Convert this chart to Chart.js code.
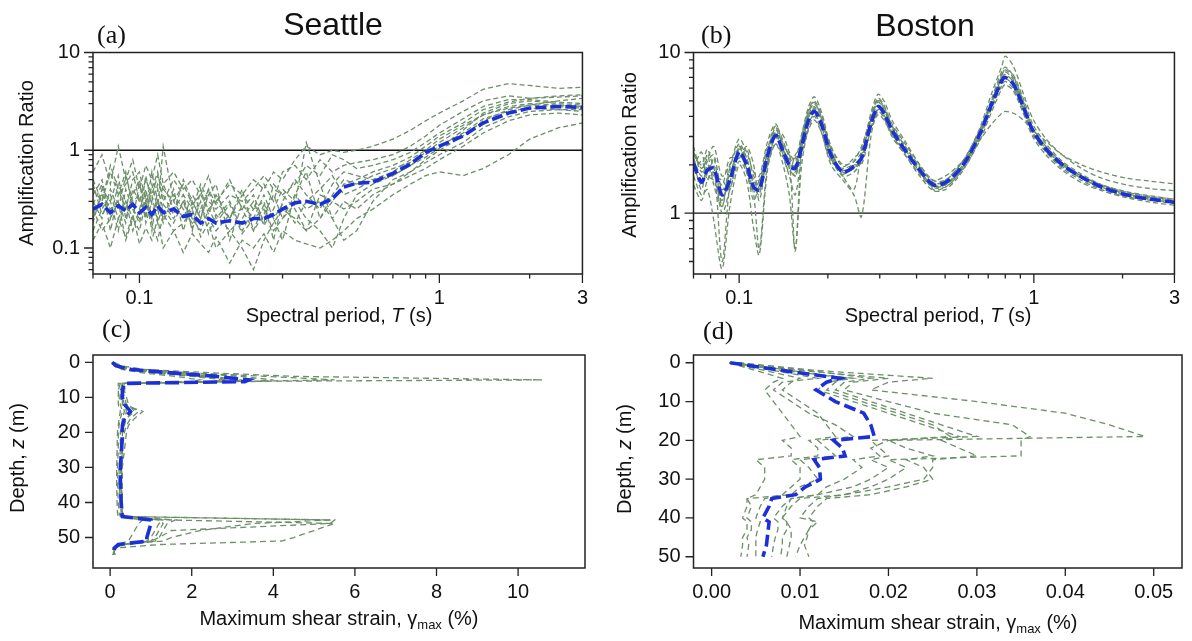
<!DOCTYPE html>
<html><head><meta charset="utf-8">
<script src="https://cdn.jsdelivr.net/npm/chart.js@4.4.1/dist/chart.umd.min.js"></script>
<style>
html,body{margin:0;padding:0;background:#fff}
body{width:1192px;height:641px;position:relative;overflow:hidden;font-family:"Liberation Sans",Arial,sans-serif;color:#111}
canvas{position:absolute}
.lbl{position:absolute;white-space:nowrap;line-height:1}
.ttl{font-size:32px;transform:translateX(-50%)}
.pan{font-family:"Liberation Serif","Times New Roman",serif;font-size:26px}
.xt{font-size:20px;transform:translateX(-50%)}
.yt{font-size:20px;transform:translate(-50%,-50%) rotate(-90deg)}
.sub{font-size:13px;position:relative;top:4px}
</style></head><body>
<canvas id="ca" width="600" height="340" style="left:0;top:0"></canvas>
<canvas id="cb" width="592" height="340" style="left:600px;top:0"></canvas>
<canvas id="cc" width="600" height="311" style="left:0;top:330px"></canvas>
<canvas id="cd" width="592" height="311" style="left:600px;top:330px"></canvas>

<div class="lbl ttl" style="left:333px;top:8px">Seattle</div>
<div class="lbl ttl" style="left:925px;top:9px">Boston</div>
<div class="lbl pan" style="left:97px;top:22px">(a)</div>
<div class="lbl pan" style="left:701px;top:22px">(b)</div>
<div class="lbl pan" style="left:102px;top:316px">(c)</div>
<div class="lbl pan" style="left:703px;top:318px">(d)</div>
<div class="lbl xt" style="left:339px;top:305px">Spectral period, <i>T</i> (s)</div>
<div class="lbl xt" style="left:938px;top:305px">Spectral period, <i>T</i> (s)</div>
<div class="lbl xt" style="left:339px;top:608px">Maximum shear strain, γ<span class="sub">max</span> (%)</div>
<div class="lbl xt" style="left:938px;top:612px">Maximum shear strain, γ<span class="sub">max</span> (%)</div>
<div class="lbl yt" style="left:26px;top:163px">Amplification Ratio</div>
<div class="lbl yt" style="left:629px;top:155px">Amplification Ratio</div>
<div class="lbl yt" style="left:17px;top:458px">Depth, <i>z</i> (m)</div>
<div class="lbl yt" style="left:624px;top:459px">Depth, <i>z</i> (m)</div>

<script>
// ---------- data ----------
const periodA = [0.07,0.075,0.08,0.085,0.09,0.095,0.1,0.105,0.11,0.115,0.12,0.13,0.14,0.15,0.16,0.17,0.18,0.2,0.22,0.24,0.26,0.28,0.3,0.33,0.36,0.4,0.44,0.48,0.53,0.6,0.7,0.8,0.9,1.0,1.2,1.4,1.7,2.0,2.5,3.0];
const seattleMean = [0.25,0.28,0.23,0.27,0.24,0.28,0.23,0.26,0.22,0.27,0.23,0.25,0.21,0.22,0.18,0.2,0.18,0.19,0.18,0.2,0.2,0.22,0.25,0.29,0.3,0.28,0.32,0.42,0.46,0.47,0.58,0.72,0.95,1.1,1.4,1.9,2.4,2.7,2.8,2.75];
const seattleRun1 = [0.6,0.9,0.45,1.1,0.5,0.8,0.4,0.7,0.5,0.9,0.45,0.6,0.4,0.5,0.35,0.55,0.3,0.45,0.35,0.5,0.4,0.6,0.5,0.8,1.1,0.9,1.0,0.95,1.0,1.1,1.3,1.6,2.0,2.4,3.2,4.2,4.8,4.6,4.3,4.4];
const seattleRun2 = [0.12,0.18,0.1,0.2,0.13,0.22,0.11,0.16,0.12,0.2,0.1,0.15,0.09,0.14,0.11,0.09,0.13,0.07,0.12,0.1,0.14,0.09,0.15,0.12,0.11,0.1,0.12,0.15,0.2,0.25,0.35,0.45,0.55,0.6,0.55,0.65,0.9,1.3,1.7,1.9];
const seattleRun3 = [0.3,0.2,0.4,0.25,0.55,0.3,0.35,0.2,0.45,0.25,1.1,0.3,0.2,0.35,0.25,0.4,0.2,0.3,0.15,0.25,0.3,0.12,0.3,0.5,0.35,0.25,0.45,0.6,0.55,0.5,0.6,0.8,1.0,1.3,1.8,2.3,2.8,3.0,2.9,2.8];
const seattleRun4 = [0.2,0.35,0.25,0.3,0.18,0.4,0.3,0.22,0.35,0.18,0.28,0.2,0.3,0.16,0.25,0.2,0.15,0.22,0.25,0.15,0.22,0.35,0.2,0.28,1.2,0.45,0.2,0.12,0.15,0.3,0.5,0.6,0.8,1.0,1.4,2.0,2.6,2.9,3.2,3.4];
const seattleRun5 = [0.15,0.25,0.35,0.2,0.3,0.15,0.25,0.4,0.2,0.3,0.18,0.35,0.25,0.18,0.3,0.14,0.22,0.15,0.2,0.3,0.17,0.25,0.4,0.3,0.2,0.15,0.1,0.2,0.35,0.45,0.55,0.7,0.9,1.1,1.5,2.1,2.5,2.7,2.6,2.5];
const seattleRun6 = [0.4,0.3,0.6,0.35,0.45,0.6,0.3,0.5,0.35,0.55,0.4,0.3,0.45,0.28,0.35,0.25,0.3,0.2,0.35,0.25,0.45,0.3,0.6,0.7,0.5,0.8,0.6,0.7,0.75,0.8,0.9,1.1,1.4,1.8,2.5,3.2,3.6,3.4,3.5,3.6];
const seattleRun7 = [0.25,0.15,0.2,0.3,0.12,0.2,0.15,0.3,0.18,0.12,0.22,0.15,0.18,0.25,0.13,0.18,0.1,0.15,0.1,0.06,0.12,0.18,0.25,0.2,0.15,0.2,0.3,0.25,0.3,0.4,0.45,0.55,0.65,0.8,1.1,1.5,2.0,2.3,2.4,2.3];
const seattleRun8 = [0.5,0.3,0.7,0.4,0.25,0.5,0.6,0.3,0.4,0.6,0.3,0.5,0.35,0.25,0.45,0.3,0.25,0.35,0.3,0.4,0.55,0.4,0.35,0.45,0.7,0.55,0.9,0.8,0.65,0.7,0.8,0.95,1.2,1.5,2.1,2.8,3.3,3.3,3.1,3.0];
const seattleRun9 = [0.35,0.5,0.2,0.45,0.3,0.2,0.45,0.25,0.6,0.3,0.2,0.4,0.15,0.3,0.2,0.35,0.45,0.12,0.28,0.2,0.35,0.2,0.28,0.18,0.3,0.4,0.55,0.35,0.4,0.5,0.55,0.7,0.85,1.05,1.6,2.4,3.0,3.2,3.0,2.9];
const seattleRun10 = [0.18,0.4,0.3,0.15,0.4,0.25,0.18,0.35,0.15,0.4,0.25,0.18,0.3,0.2,0.15,0.25,0.18,0.28,0.14,0.2,0.25,0.15,0.2,0.35,0.25,0.3,0.2,0.3,0.25,0.35,0.45,0.6,0.75,0.9,1.2,1.7,2.2,2.5,2.6,2.6];
const seattleRun11 = [0.45,0.22,0.3,0.55,0.2,0.35,0.5,0.18,0.3,0.45,0.35,0.22,0.5,0.3,0.2,0.4,0.28,0.5,0.25,0.35,0.18,0.45,0.35,0.25,0.15,0.35,0.3,0.45,0.5,0.6,0.7,0.85,1.1,1.4,1.9,2.6,3.1,3.4,3.6,3.7];
const seattleRun12 = [0.28,0.45,0.15,0.35,0.6,0.25,0.2,0.55,0.28,0.2,0.45,0.25,0.35,0.15,0.4,0.22,0.35,0.2,0.4,0.15,0.28,0.2,0.12,0.35,0.6,0.2,0.35,0.5,0.45,0.55,0.65,0.75,0.95,1.2,1.7,2.3,2.7,2.9,2.8,2.7];

const periodB = [0.07,0.0745,0.078,0.082,0.0875,0.093,0.1,0.106,0.112,0.117,0.125,0.133,0.14,0.148,0.155,0.163,0.172,0.18,0.19,0.205,0.225,0.245,0.26,0.28,0.296,0.31,0.33,0.366,0.41,0.456,0.5,0.55,0.6,0.66,0.72,0.78,0.8,0.85,0.92,0.99,1.1,1.25,1.45,1.7,2.06,2.5,3.0];
const bostonMean = [2.05,1.56,1.85,1.9,1.3,1.6,2.4,2.0,1.45,1.4,2.3,3.05,2.5,2.0,1.9,2.6,3.8,4.3,3.6,2.3,1.8,1.95,2.2,3.6,4.6,4.2,3.3,2.45,1.85,1.5,1.55,1.8,2.25,3.2,4.8,6.7,7.0,6.4,4.6,3.3,2.5,2.0,1.68,1.45,1.3,1.22,1.17];
const bostonRun1 = [2.4,1.9,2.2,2.6,1.7,2.0,2.9,2.4,1.8,1.7,2.8,3.6,2.8,2.3,2.2,3.1,4.6,5.3,4.3,2.6,2.0,2.1,2.4,4.2,5.5,5.0,3.8,2.8,2.0,1.6,1.6,1.9,2.4,3.5,5.6,8.3,9.5,8.3,5.6,3.9,2.9,2.3,1.9,1.65,1.5,1.42,1.38];
const bostonRun2 = [1.7,1.3,1.4,0.9,0.45,1.1,2.0,1.6,0.8,0.55,1.9,2.7,2.1,1.3,0.6,2.0,3.4,4.0,3.2,2.0,1.6,1.3,0.95,3.0,4.3,3.9,3.0,2.3,1.75,1.45,1.5,1.75,2.2,3.1,4.5,6.3,6.6,6.0,4.4,3.1,2.4,1.9,1.6,1.4,1.27,1.2,1.15];
const bostonRun3 = [2.6,1.8,2.3,1.5,1.1,1.9,2.7,2.2,1.5,1.3,2.5,3.5,2.9,2.2,1.7,2.8,4.2,4.8,4.0,2.5,1.7,1.4,2.4,4.0,5.2,4.7,3.5,2.6,1.9,1.4,1.45,1.7,2.1,3.0,4.6,7.2,7.9,7.3,5.2,3.6,2.7,2.1,1.75,1.5,1.35,1.27,1.22];
const bostonRun4 = [1.5,1.2,1.6,1.8,1.0,1.4,2.1,1.8,1.2,1.5,2.1,2.7,2.3,1.7,1.3,2.3,3.3,3.8,3.2,2.1,1.9,2.0,2.0,3.3,4.1,3.8,3.1,2.4,1.9,1.6,1.7,1.95,2.3,2.9,3.6,4.2,4.3,4.2,3.8,3.3,2.8,2.3,2.0,1.8,1.65,1.58,1.52];
const bostonRun5 = [2.2,1.7,2.1,2.3,1.4,1.7,2.6,2.2,1.6,1.5,2.4,3.3,2.7,2.0,2.0,2.7,4.1,4.6,3.8,2.4,1.85,2.0,2.3,3.8,4.9,4.4,3.4,2.5,1.85,1.45,1.45,1.7,2.2,3.2,5.0,7.3,7.6,6.8,4.7,3.3,2.5,2.0,1.65,1.45,1.3,1.22,1.16];
const bostonRun6 = [1.8,2.1,1.7,1.6,1.2,1.8,2.3,1.9,1.3,0.6,2.1,3.0,2.6,1.9,1.7,2.4,3.6,4.1,3.5,2.2,1.7,1.8,2.1,3.4,4.4,4.0,3.1,2.3,1.7,1.38,1.4,1.65,2.1,2.9,4.3,6.0,6.3,5.8,4.2,3.0,2.3,1.85,1.55,1.38,1.25,1.17,1.12];
const bostonRun7 = [2.0,1.5,1.9,2.0,0.5,1.5,2.5,2.1,1.6,1.4,2.2,3.2,2.5,2.1,0.58,2.5,3.9,4.5,3.7,2.3,1.8,1.9,2.2,3.7,4.7,4.3,3.3,2.5,1.8,1.52,1.6,1.9,2.4,3.4,5.2,7.7,8.1,7.2,5.0,3.4,2.6,2.05,1.7,1.48,1.32,1.24,1.18];
const bostonRun8 = [2.3,2.0,2.5,1.9,1.5,2.2,2.2,2.5,1.7,1.6,2.6,2.9,3.1,2.4,2.1,2.9,4.4,5.0,4.1,2.6,1.95,2.2,2.5,4.0,5.1,4.6,3.6,2.7,2.0,1.55,1.55,1.8,2.3,3.3,4.9,7.0,7.3,6.6,4.6,3.2,2.5,2.0,1.7,1.5,1.36,1.28,1.22];
const bostonRun9 = [1.9,2.4,1.6,2.2,1.1,2.0,2.2,2.6,2.0,1.2,2.4,3.4,2.7,2.3,1.8,3.0,4.3,4.9,3.9,2.5,1.75,2.1,2.6,3.9,5.0,4.5,3.5,2.6,1.95,1.5,1.5,1.75,2.2,3.2,4.9,7.4,7.8,7.0,4.9,3.4,2.6,2.05,1.7,1.5,1.34,1.26,1.2];
const bostonRun10 = [2.1,1.4,2.0,1.7,1.6,1.4,2.6,1.8,1.35,1.6,2.0,3.1,2.4,1.8,2.3,2.6,4.0,4.4,3.7,2.2,1.85,1.9,2.1,3.5,4.5,4.1,3.2,2.4,1.8,1.48,1.5,1.8,2.25,3.1,4.7,6.6,6.9,6.3,4.5,3.2,2.45,1.95,1.65,1.45,1.3,1.21,1.16];

const depthC = [0,1,2,3,4,5,5.5,6,8,10,12,14,16,18,20,25,30,35,40,43,44,45,46,48,50,51,52,53,54,55];
const seattleStrainMean = [0.05,0.15,0.5,1.5,2.6,3.4,3.3,0.35,0.3,0.3,0.35,0.5,0.35,0.3,0.3,0.28,0.25,0.25,0.27,0.28,0.3,1.0,1.0,0.95,0.9,0.9,0.2,0.1,0.1,0.1];
const seattleStrain1 = [0.1,0.3,0.8,2.5,4.5,10.6,2.0,0.4,0.35,0.4,0.45,0.6,0.4,0.35,0.3,0.3,0.28,0.28,0.3,0.3,0.35,1.3,1.2,1.1,1.0,0.9,0.3,0.15,0.12,0.12];
const seattleStrain2 = [0.05,0.2,0.6,1.8,3.2,4.0,3.5,0.3,0.28,0.3,0.3,0.35,0.3,0.28,0.25,0.25,0.22,0.22,0.25,0.27,0.3,5.5,5.4,1.5,1.2,1.0,0.25,0.1,0.08,0.08];
const seattleStrain3 = [0.05,0.2,0.5,1.5,2.5,3.2,3.0,0.3,0.25,0.25,0.3,0.8,0.6,0.45,0.4,0.35,0.3,0.3,0.3,0.32,0.35,5.4,3.5,2.2,1.5,1.3,0.3,0.1,0.1,0.1];
const seattleStrain4 = [0.05,0.1,0.3,1.0,2.0,2.8,2.5,0.25,0.2,0.22,0.25,0.3,0.25,0.22,0.2,0.2,0.18,0.18,0.2,0.22,0.25,1.5,5.5,5.0,4.5,4.2,1.2,0.15,0.1,0.1];
const seattleStrain5 = [0.05,0.15,0.4,1.2,2.2,3.0,2.6,0.3,0.3,0.35,0.4,0.7,0.5,0.4,0.35,0.3,0.28,0.27,0.28,0.3,0.3,1.2,1.3,1.2,1.1,1.0,0.3,0.12,0.1,0.1];
const seattleStrain6 = [0.05,0.1,0.3,0.8,1.6,2.2,2.0,0.2,0.2,0.2,0.2,0.25,0.22,0.2,0.18,0.17,0.16,0.16,0.17,0.18,0.2,0.8,0.7,0.6,0.5,0.45,0.2,0.08,0.06,0.06];
const seattleStrain7 = [0.05,0.2,0.6,2.0,3.8,5.5,3.0,0.35,0.3,0.3,0.35,0.4,0.35,0.3,0.3,0.28,0.26,0.26,0.28,0.3,0.32,1.6,1.4,1.3,1.2,1.1,0.35,0.12,0.1,0.1];

const depthD = [0,2,4,5,7,10,13,16,19,20,22,24,25,27,30,32,34,35,37,40,41,43,45,47,50];
const bostonStrainMean = [0.0021,0.008,0.0145,0.013,0.0118,0.014,0.0172,0.018,0.0184,0.0138,0.0148,0.0151,0.0116,0.0122,0.0123,0.0106,0.0095,0.0068,0.0065,0.0058,0.0065,0.0064,0.0063,0.0062,0.0058];
const bostonStrain1 = [0.003,0.012,0.025,0.02,0.018,0.03,0.04,0.045,0.049,0.02,0.018,0.019,0.016,0.017,0.015,0.013,0.012,0.009,0.008,0.007,0.0075,0.0075,0.0072,0.007,0.0068];
const bostonStrain2 = [0.002,0.01,0.02,0.016,0.015,0.02,0.025,0.034,0.036,0.035,0.035,0.035,0.02,0.022,0.02,0.018,0.015,0.01,0.009,0.008,0.0085,0.0085,0.008,0.008,0.0078];
const bostonStrain3 = [0.002,0.008,0.016,0.013,0.012,0.016,0.02,0.024,0.028,0.026,0.028,0.03,0.025,0.025,0.024,0.02,0.015,0.012,0.011,0.01,0.012,0.011,0.0105,0.01,0.0095];
const bostonStrain4 = [0.0025,0.007,0.012,0.008,0.007,0.009,0.011,0.014,0.016,0.012,0.013,0.014,0.01,0.011,0.012,0.01,0.009,0.004,0.004,0.0035,0.004,0.004,0.0035,0.0035,0.0033];
const bostonStrain5 = [0.002,0.005,0.008,0.007,0.006,0.007,0.008,0.009,0.01,0.008,0.009,0.009,0.005,0.006,0.006,0.0055,0.005,0.004,0.0045,0.004,0.0045,0.0045,0.004,0.0042,0.004];
const bostonStrain6 = [0.0025,0.009,0.015,0.014,0.013,0.017,0.021,0.025,0.027,0.02,0.022,0.025,0.022,0.024,0.025,0.022,0.018,0.013,0.012,0.011,0.0115,0.011,0.0108,0.0105,0.011];
const bostonStrain7 = [0.002,0.006,0.01,0.009,0.008,0.01,0.012,0.013,0.014,0.011,0.012,0.012,0.009,0.01,0.01,0.009,0.008,0.006,0.0055,0.005,0.0055,0.0052,0.005,0.005,0.005];
const bostonStrain8 = [0.003,0.011,0.018,0.015,0.014,0.018,0.022,0.026,0.03,0.018,0.019,0.02,0.018,0.02,0.018,0.016,0.012,0.009,0.0085,0.008,0.0085,0.009,0.009,0.0088,0.0085];

// tick values and labels
const periodTicks = [0.07,0.08,0.09,0.1,0.2,0.3,0.4,0.5,0.6,0.7,0.8,0.9,1,2,3];
const periodTickLabels = ['','','','0.1','','','','','','','','','1','','3'];
const ratioTicksA = [0.06,0.07,0.08,0.09,0.1,0.2,0.3,0.4,0.5,0.6,0.7,0.8,0.9,1,2,3,4,5,6,7,8,9,10];
const ratioTickLabelsA = ['','','','','0.1','','','','','','','','','1','','','','','','','','','10'];
const ratioTicksB = [0.5,0.6,0.7,0.8,0.9,1,2,3,4,5,6,7,8,9,10];
const ratioTickLabelsB = ['','','','','','1','','','','','','','','','10'];
const strainTicksC = [0,2,4,6,8,10];
const strainTickLabelsC = ['0','2','4','6','8','10'];
const strainTicksD = [0,0.01,0.02,0.03,0.04,0.05];
const strainTickLabelsD = ['0.00','0.01','0.02','0.03','0.04','0.05'];
const depthTicks = [0,10,20,30,40,50];
const depthTickLabels = ['0','10','20','30','40','50'];
const unityLine = [1,1];

// ---------- drawing ----------
const GREEN = '#6c8f69', BLUE = '#1d30d8';
function xy(xs, ys){ return xs.map((x,i)=>({x:x, y:ys[i]})); }
function green(data, dash){ return {data, borderColor:GREEN, borderWidth:1.3, borderDash:dash||[5,3], pointRadius:0, fill:false, order:2}; }
function blue(data, dash){ return {data, borderColor:BLUE, borderWidth:3.6, borderDash:dash||[11,4], pointRadius:0, fill:false, order:0}; }
function unity(xr){ return {data: xy(xr, unityLine), borderColor:'#111', borderWidth:1.3, pointRadius:0, fill:false, order:3}; }

const framePlugin = {
  id:'frame',
  afterDraw(chart, args, opts){
    const {ctx, chartArea:a, scales} = chart;
    ctx.save();
    ctx.strokeStyle = '#222'; ctx.lineWidth = 1.5;
    ctx.strokeRect(a.left, a.top, a.right-a.left, a.bottom-a.top);
    ctx.lineWidth = 1.3; ctx.beginPath();
    scales.x.ticks.forEach(t => { const p = scales.x.getPixelForValue(t.value); const L = t.mj ? opts.major : opts.minor; ctx.moveTo(p, a.bottom); ctx.lineTo(p, a.bottom+L); });
    scales.y.ticks.forEach(t => { const p = scales.y.getPixelForValue(t.value); const L = t.mj ? opts.major : opts.minor; ctx.moveTo(a.left, p); ctx.lineTo(a.left-L, p); });
    ctx.stroke(); ctx.restore();
  }
};

function axis(spec, dir, size){
  return {
    type: spec.type, min: spec.min, max: spec.max, reverse: !!spec.reverse,
    afterBuildTicks: s => { s.ticks = spec.values.map((v,i)=>({value:v, mj: spec.labels[i] !== ''})); },
    afterFit: s => { if (dir === 'x') s.height = size; else s.width = size; },
    grid:{display:false, drawTicks:false}, border:{display:false},
    ticks:{autoSkip:false, maxRotation:0, minRotation:0, padding: spec.pad, color:'#111',
      font:{family:"'Liberation Sans', Arial, sans-serif", size:20},
      callback: (v, i) => spec.labels[i] !== undefined ? spec.labels[i] : ''}
  };
}

function makeChart(id, datasets, xs, ys, pad, yWidth, xHeight, tension, major, minor){
  return new Chart(document.getElementById(id), {
    type:'line',
    data:{datasets},
    options:{
      responsive:false, animation:false, events:[],
      layout:{padding:pad},
      elements:{line:{tension:tension}, point:{radius:0}},
      plugins:{legend:{display:false}, tooltip:{enabled:false}, frame:{major, minor}},
      scales:{x: axis(xs,'x',xHeight), y: axis(ys,'y',yWidth)}
    },
    plugins:[framePlugin]
  });
}

const seaRuns = [seattleRun1,seattleRun2,seattleRun3,seattleRun4,seattleRun5,seattleRun6,seattleRun7,seattleRun8,seattleRun9,seattleRun10,seattleRun11,seattleRun12];
const bosRuns = [bostonRun1,bostonRun2,bostonRun3,bostonRun4,bostonRun5,bostonRun6,bostonRun7,bostonRun8,bostonRun9,bostonRun10];
const seaStrains = [seattleStrain1,seattleStrain2,seattleStrain3,seattleStrain4,seattleStrain5,seattleStrain6,seattleStrain7];
const bosStrains = [bostonStrain1,bostonStrain2,bostonStrain3,bostonStrain4,bostonStrain5,bostonStrain6,bostonStrain7,bostonStrain8];

makeChart('ca',
  [unity([0.07,3]), ...seaRuns.map(r=>green(xy(periodA,r))), blue(xy(periodA,seattleMean))],
  {type:'logarithmic', min:0.07, max:3, values:periodTicks, labels:periodTickLabels, pad:12},
  {type:'logarithmic', min:0.0542, max:10, values:ratioTicksA, labels:ratioTickLabelsA, pad:13},
  {top:52.5, right:15, bottom:26, left:0}, 93, 40, 0, 9, 4.5);

makeChart('cb',
  [unity([0.07,3]), ...bosRuns.map(r=>green(xy(periodB,r))), blue(xy(periodB,bostonMean))],
  {type:'logarithmic', min:0.07, max:3, values:periodTicks, labels:periodTickLabels, pad:12},
  {type:'logarithmic', min:0.418, max:10, values:ratioTicksB, labels:ratioTickLabelsB, pad:13},
  {top:52.5, right:9, bottom:26, left:0}, 93.5, 40, 0.3, 9, 4.5);

makeChart('cc',
  [...seaStrains.map(r=>green(xy(r,depthC),[6,4])), blue(xy(seattleStrainMean,depthC),[14,5])],
  {type:'linear', min:-0.42, max:11.64, values:strainTicksC, labels:strainTickLabelsC, pad:12},
  {type:'linear', min:-2.1, max:58.7, reverse:true, values:depthTicks, labels:depthTickLabels, pad:13},
  {top:19, right:15, bottom:33, left:0}, 93, 40, 0, 8, 8);

makeChart('cd',
  [...bosStrains.map(r=>green(xy(r,depthD),[6,4])), blue(xy(bostonStrainMean,depthD),[12,5])],
  {type:'linear', min:-0.00205, max:0.0532, values:strainTicksD, labels:strainTickLabelsD, pad:12},
  {type:'linear', min:-2.0, max:52.9, reverse:true, values:depthTicks, labels:depthTickLabels, pad:13},
  {top:19, right:10, bottom:33, left:0}, 93.5, 40, 0, 8, 8);
</script>
</body></html>
